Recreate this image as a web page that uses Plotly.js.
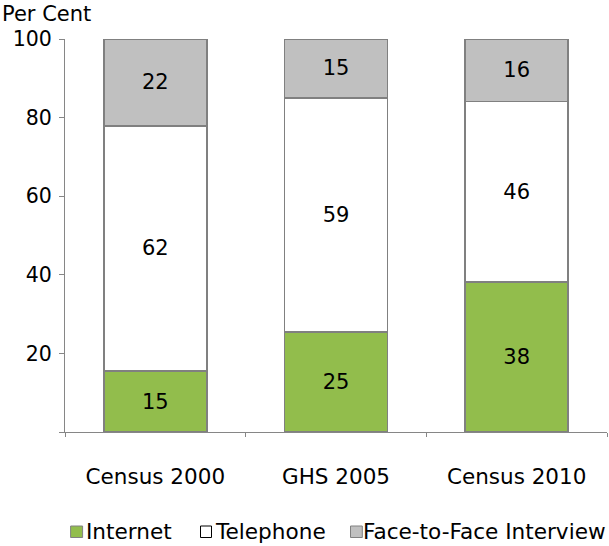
<!DOCTYPE html>
<html>
<head>
<meta charset="utf-8">
<script src="https://cdn.plot.ly/plotly-3.0.1.min.js"></script>
<style>html,body{margin:0;padding:0;background:#fff;}#chart{width:609px;height:546px;}</style>
</head>
<body>
<div id="chart"></div>
<script>
// ---- data ----
const categories = ["Census 2000", "GHS 2005", "Census 2010"];
const internet = [15.5, 25.4, 38.1];
const telephone = [62.4, 59.6, 46.0];
const faceToFace = [22.1, 15.0, 15.9];
const internetLabels = ["15", "25", "38"];
const telephoneLabels = ["62", "59", "46"];
const faceToFaceLabels = ["22", "15", "16"];
const seriesNames = ["Internet", "Telephone", "Face-to-Face Interview"];
const yTickVals = [0, 20, 40, 60, 80, 100];
const yTickText = ["", "20", "40", "60", "80", "100"];

// ---- styles ----
const FONT = "DejaVu Sans, Verdana, sans-serif";
const colors = ["#92bd4c", "#ffffff", "#c0c0c0"];
const edge = "#808080";
const axisColor = "#868686";

const W = 609, H = 546;
const M = {l: 65, r: 2, t: 39, b: 114};
const pw = W - M.l - M.r, ph = H - M.t - M.b;
const X = px => (px - M.l) / pw;
const Y = py => (H - M.b - py) / ph;

function barTrace(vals, labels, name, color) {
  return {
    type: "bar", x: categories, y: vals, name: name,
    text: labels, texttemplate: "%{text}", textposition: "inside",
    insidetextanchor: "middle", constraintext: "none",
    textfont: {family: FONT, size: 21, color: "#000"},
    marker: {color: color, line: {color: edge, width: 1.7}},
    hoverinfo: "skip"
  };
}

const data = [
  barTrace(internet, internetLabels, seriesNames[0], colors[0]),
  barTrace(telephone, telephoneLabels, seriesNames[1], colors[1]),
  barTrace(faceToFace, faceToFaceLabels, seriesNames[2], colors[2])
];

// manual legend (squares + texts)
const legendSquares = [[70.6, 82.6], [200.5, 211.5], [350.5, 362.3]];
const legendTextX = [83.5, 213, 360.5];
const shapes = [], annotations = [];
legendSquares.forEach((s, i) => {
  shapes.push({type: "rect", xref: "paper", yref: "paper",
    x0: X(s[0]), x1: X(s[1]), y0: Y(526), y1: Y(537.5),
    fillcolor: colors[i], line: {color: i === 1 ? "#000" : edge, width: 1}});
  annotations.push({xref: "paper", yref: "paper", x: X(legendTextX[i]), y: Y(531),
    xanchor: "left", yanchor: "middle", showarrow: false, text: seriesNames[i],
    font: {family: FONT, size: 21.6, color: "#000"}});
});
annotations.push({xref: "paper", yref: "paper", x: X(0), y: Y(14),
  xanchor: "left", yanchor: "middle", showarrow: false, text: "Per Cent",
  font: {family: FONT, size: 21, color: "#000"}});

const layout = {
  width: W, height: H,
  margin: M,
  paper_bgcolor: "#fff", plot_bgcolor: "#fff",
  barmode: "stack", bargap: 0.43,
  showlegend: false,
  font: {family: FONT, color: "#000"},
  xaxis: {
    type: "category", range: [-0.5, 2.5],
    showline: true, linecolor: axisColor, linewidth: 1,
    ticks: "outside", tickson: "boundaries", ticklen: 4, tickcolor: axisColor,
    tickfont: {family: FONT, size: 21.5, color: "#000"},
    ticklabelstandoff: 25,
    showgrid: false, zeroline: false, fixedrange: true
  },
  yaxis: {
    range: [0, 100],
    showline: true, linecolor: axisColor, linewidth: 1,
    ticks: "outside", ticklen: 5, tickcolor: axisColor,
    tickvals: yTickVals, ticktext: yTickText,
    tickfont: {family: FONT, size: 20.5, color: "#000"},
    ticklabelstandoff: 3,
    showgrid: false, zeroline: false, fixedrange: true
  },
  shapes: shapes,
  annotations: annotations
};

Plotly.newPlot("chart", data, layout, {displayModeBar: false, staticPlot: true});
</script>
</body>
</html>
